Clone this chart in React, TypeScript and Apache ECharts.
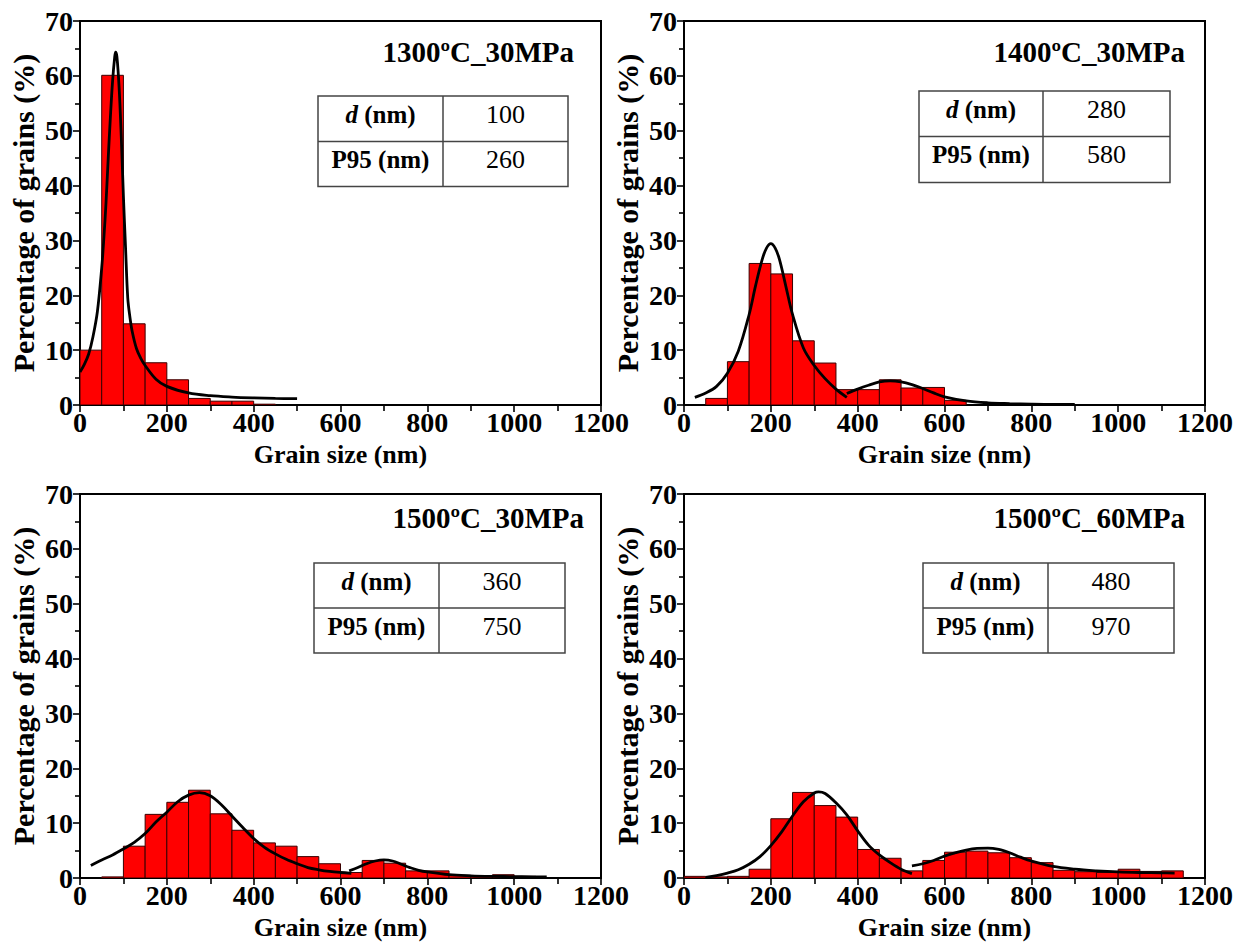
import React, { useEffect, useRef } from "react";
import * as echarts from "echarts";

const BIN_WIDTH = 50;
const X_MIN = 0;
const X_MAX = 1200;
const X_STEP = 200;
const Y_MIN = 0;
const Y_MAX = 70;
const Y_STEP = 10;

const X_NAME = "Grain size (nm)";
const Y_NAME = "Percentage of grains (%)";

const titles = ["1300ºC_30MPa", "1400ºC_30MPa", "1500ºC_30MPa", "1500ºC_60MPa"];
const rowLabelD = "d";
const rowLabelUnit = " (nm)";
const rowLabelP95 = "P95 (nm)";
const dValues = ["100", "280", "360", "480"];
const p95Values = ["260", "580", "750", "970"];

// Panel 1: 1300ºC_30MPa
const p1BinStarts = [0, 50, 100, 150, 200, 250, 300, 350, 400];
const p1Counts = [10.0, 60.1, 14.8, 7.7, 4.6, 1.2, 0.7, 0.7, 0.15];
const p1FitX = [0, 10, 20, 30, 40, 50, 55, 60, 65, 70, 75, 80, 82, 85, 90, 95, 100, 105, 110, 115, 120, 130, 140, 150, 175, 200, 250, 300, 350, 400, 450, 500];
const p1FitY = [6.0, 7.4, 9.3, 12.5, 17.0, 25.0, 30.5, 37.0, 45.0, 52.5, 59.0, 63.5, 64.3, 63.5, 58.0, 49.0, 38.0, 28.5, 19.5, 16.0, 13.5, 10.3, 8.5, 7.2, 4.7, 3.4, 2.2, 1.7, 1.45, 1.3, 1.2, 1.15];

// Panel 2: 1400ºC_30MPa
const p2BinStarts = [50, 100, 150, 200, 250, 300, 350, 400, 450, 500, 550, 600];
const p2Counts = [1.2, 7.9, 25.8, 23.9, 11.7, 7.65, 2.8, 2.8, 4.6, 3.1, 3.2, 0.85];
const p2FitAX = [25, 50, 75, 100, 125, 150, 165, 180, 190, 200, 210, 220, 235, 250, 275, 300, 325, 350, 375];
const p2FitAY = [1.4, 2.2, 3.4, 5.8, 9.8, 16.5, 21.8, 26.5, 28.6, 29.4, 28.6, 26.5, 21.5, 16.5, 10.4, 7.2, 4.8, 2.9, 1.4];
const p2FitBX = [375, 400, 425, 450, 475, 500, 525, 550, 575, 600, 650, 700, 750, 800, 850, 900];
const p2FitBY = [2.1, 2.9, 3.6, 4.2, 4.4, 4.2, 3.7, 3.0, 2.2, 1.5, 0.75, 0.4, 0.25, 0.15, 0.1, 0.1];

// Panel 3: 1500ºC_30MPa
const p3BinStarts = [50, 100, 150, 200, 250, 300, 350, 400, 450, 500, 550, 600, 650, 700, 750, 800, 850, 900, 950, 1000];
const p3Counts = [0.2, 5.8, 11.6, 13.8, 16.0, 11.7, 8.7, 6.4, 5.8, 3.9, 2.6, 1.0, 3.2, 2.7, 1.3, 1.3, 0.5, 0.4, 0.6, 0.3];
const p3FitAX = [25, 50, 75, 100, 125, 150, 175, 200, 225, 250, 275, 300, 325, 350, 375, 400, 425, 450, 475, 500, 525, 550, 575, 600, 625];
const p3FitAY = [2.3, 3.3, 4.2, 5.3, 6.5, 8.1, 10.2, 12.0, 13.9, 15.1, 15.55, 15.0, 13.4, 11.3, 9.2, 7.2, 5.6, 4.4, 3.4, 2.6, 1.9, 1.5, 1.2, 1.0, 0.85];
const p3FitBX = [620, 640, 660, 680, 700, 720, 740, 760, 780, 800, 850, 900, 950, 1000, 1050, 1075];
const p3FitBY = [1.3, 1.9, 2.6, 3.1, 3.3, 3.1, 2.5, 1.9, 1.4, 1.1, 0.6, 0.4, 0.3, 0.25, 0.2, 0.2];

// Panel 4: 1500ºC_60MPa
const p4BinStarts = [0, 50, 100, 150, 200, 250, 300, 350, 400, 450, 500, 550, 600, 650, 700, 750, 800, 850, 900, 950, 1000, 1050, 1100];
const p4Counts = [0.3, 0.2, 0.3, 1.6, 10.8, 15.6, 13.2, 11.1, 5.2, 3.6, 1.3, 3.2, 4.7, 4.9, 4.6, 3.7, 2.8, 1.4, 1.15, 1.0, 1.6, 1.2, 1.3];
const p4FitAX = [50, 75, 100, 125, 150, 175, 200, 225, 250, 275, 300, 310, 325, 350, 375, 400, 425, 450, 475, 500, 525];
const p4FitAY = [0.1, 0.45, 0.9, 1.5, 2.5, 3.9, 5.9, 8.4, 11.3, 13.9, 15.5, 15.7, 15.4, 13.7, 11.5, 8.6, 6.0, 4.2, 2.8, 1.6, 0.8];
const p4FitBX = [525, 550, 575, 600, 625, 650, 675, 700, 725, 750, 775, 800, 850, 900, 950, 1000, 1050, 1100, 1130];
const p4FitBY = [2.2, 2.6, 3.2, 4.0, 4.6, 5.1, 5.4, 5.45, 5.2, 4.6, 3.8, 3.1, 2.1, 1.6, 1.3, 1.1, 1.0, 0.95, 0.9];

const FONT = "Liberation Serif, Times New Roman, serif";

type Panel = {
  starts: number[];
  counts: number[];
  fits: [number[], number[]][];
  grid: { left: number; top: number; width: number; height: number };
  titleRight: number;
  titleY: number;
  table: { cols: [number, number, number]; rows: [number, number, number] };
};

const panels: Panel[] = [
  {
    starts: p1BinStarts,
    counts: p1Counts,
    fits: [[p1FitX, p1FitY]],
    grid: { left: 80, top: 21, width: 521, height: 384 },
    titleRight: 574,
    titleY: 52,
    table: { cols: [318, 443, 568], rows: [96, 141.5, 186.5] },
  },
  {
    starts: p2BinStarts,
    counts: p2Counts,
    fits: [
      [p2FitAX, p2FitAY],
      [p2FitBX, p2FitBY],
    ],
    grid: { left: 684, top: 21, width: 521, height: 384 },
    titleRight: 1185,
    titleY: 52,
    table: { cols: [919, 1043, 1170], rows: [91, 136.5, 182.5] },
  },
  {
    starts: p3BinStarts,
    counts: p3Counts,
    fits: [
      [p3FitAX, p3FitAY],
      [p3FitBX, p3FitBY],
    ],
    grid: { left: 80, top: 494, width: 521, height: 384 },
    titleRight: 584,
    titleY: 518,
    table: { cols: [314, 439, 565], rows: [563, 608, 653] },
  },
  {
    starts: p4BinStarts,
    counts: p4Counts,
    fits: [
      [p4FitAX, p4FitAY],
      [p4FitBX, p4FitBY],
    ],
    grid: { left: 684, top: 494, width: 521, height: 384 },
    titleRight: 1185,
    titleY: 518,
    table: { cols: [923, 1048, 1174], rows: [563, 608, 653] },
  },
];

function buildOption() {
  const grids: any[] = [];
  const xAxes: any[] = [];
  const yAxes: any[] = [];
  const series: any[] = [];
  const graphic: any[] = [];

  panels.forEach((p, i) => {
    grids.push({
      ...p.grid,
      show: true,
      borderColor: "#000",
      borderWidth: 2,
      backgroundColor: "#fff",
      containLabel: false,
    });
    xAxes.push({
      type: "value",
      gridIndex: i,
      min: X_MIN,
      max: X_MAX,
      interval: X_STEP,
      name: X_NAME,
      nameLocation: "middle",
      nameGap: 36,
      nameTextStyle: { fontFamily: FONT, fontWeight: "bold", fontSize: 26, color: "#000" },
      axisLine: { show: true, onZero: false, lineStyle: { color: "#000", width: 2 } },
      axisTick: { show: true, inside: false, length: 7, lineStyle: { color: "#000", width: 1.6 } },
      minorTick: { show: true, splitNumber: 2, length: 6, lineStyle: { color: "#000", width: 1.6 } },
      splitLine: { show: false },
      minorSplitLine: { show: false },
      axisLabel: {
        fontFamily: FONT,
        fontWeight: "bold",
        fontSize: 28,
        color: "#000",
        margin: 3,
        formatter: (v: number) => String(v),
      },
    });
    yAxes.push({
      type: "value",
      gridIndex: i,
      min: Y_MIN,
      max: Y_MAX,
      interval: Y_STEP,
      name: Y_NAME,
      nameLocation: "middle",
      nameGap: 42,
      nameTextStyle: { fontFamily: FONT, fontWeight: "bold", fontSize: 30, color: "#000" },
      axisLine: { show: true, lineStyle: { color: "#000", width: 2 } },
      axisTick: { show: true, inside: false, length: 7, lineStyle: { color: "#000", width: 1.6 } },
      minorTick: { show: true, splitNumber: 2, length: 5, lineStyle: { color: "#000", width: 1.6 } },
      splitLine: { show: false },
      minorSplitLine: { show: false },
      axisLabel: {
        fontFamily: FONT,
        fontWeight: "bold",
        fontSize: 28,
        color: "#000",
        margin: 7,
        formatter: (v: number) => String(v),
      },
    });

    series.push({
      type: "custom",
      xAxisIndex: i,
      yAxisIndex: i,
      clip: true,
      z: 2,
      data: p.starts.map((s, k) => [s, s + BIN_WIDTH, p.counts[k]]),
      encode: { x: [0, 1], y: 2 },
      renderItem: (params: any, api: any) => {
        const x0 = api.value(0);
        const x1 = api.value(1);
        const y = api.value(2);
        const a = api.coord([x0, y]);
        const b = api.coord([x1, 0]);
        return {
          type: "rect",
          shape: { x: a[0], y: a[1], width: b[0] - a[0], height: b[1] - a[1] },
          style: { fill: "#ff0000", stroke: "#3a0000", lineWidth: 1 },
        };
      },
    });

    p.fits.forEach(([xs, ys]) => {
      series.push({
        type: "line",
        xAxisIndex: i,
        yAxisIndex: i,
        z: 5,
        smooth: 0.35,
        showSymbol: false,
        symbol: "none",
        data: xs.map((x, k) => [x, ys[k]]),
        lineStyle: { color: "#000", width: 2.8 },
      });
    });

    graphic.push({
      type: "text",
      x: p.titleRight,
      y: p.titleY,
      z: 10,
      style: {
        text: titles[i],
        fontFamily: FONT,
        fontWeight: "bold",
        fontSize: 29,
        fill: "#000",
        align: "right",
        verticalAlign: "middle",
      },
    });

    const [c0, c1, c2] = p.table.cols;
    const [r0, r1, r2] = p.table.rows;
    graphic.push({
      type: "rect",
      z: 10,
      shape: { x: c0, y: r0, width: c2 - c0, height: r2 - r0 },
      style: { fill: "#fff", stroke: "#444", lineWidth: 1.5 },
    });
    graphic.push({
      type: "line",
      z: 11,
      shape: { x1: c0, y1: r1, x2: c2, y2: r1 },
      style: { stroke: "#444", lineWidth: 1.5 },
    });
    graphic.push({
      type: "line",
      z: 11,
      shape: { x1: c1, y1: r0, x2: c1, y2: r2 },
      style: { stroke: "#444", lineWidth: 1.5 },
    });
    const col0 = (c0 + c1) / 2;
    const col1 = (c1 + c2) / 2;
    const rowText0 = r0 + 18;
    const rowText1 = r1 + 18;
    graphic.push({
      type: "text",
      z: 12,
      x: col0,
      y: rowText0,
      style: {
        text: `{i|${rowLabelD}}{b|${rowLabelUnit}}`,
        rich: {
          i: { fontFamily: FONT, fontWeight: "bold", fontStyle: "italic", fontSize: 25, fill: "#000" },
          b: { fontFamily: FONT, fontWeight: "bold", fontSize: 25, fill: "#000" },
        },
        align: "center",
        verticalAlign: "middle",
      },
    });
    graphic.push({
      type: "text",
      z: 12,
      x: col0,
      y: rowText1,
      style: {
        text: rowLabelP95,
        fontFamily: FONT,
        fontWeight: "bold",
        fontSize: 25,
        fill: "#000",
        align: "center",
        verticalAlign: "middle",
      },
    });
    graphic.push({
      type: "text",
      z: 12,
      x: col1,
      y: rowText0,
      style: {
        text: dValues[i],
        fontFamily: FONT,
        fontSize: 26,
        fill: "#000",
        align: "center",
        verticalAlign: "middle",
      },
    });
    graphic.push({
      type: "text",
      z: 12,
      x: col1,
      y: rowText1,
      style: {
        text: p95Values[i],
        fontFamily: FONT,
        fontSize: 26,
        fill: "#000",
        align: "center",
        verticalAlign: "middle",
      },
    });
  });

  return {
    animation: false,
    backgroundColor: "#fff",
    textStyle: { fontFamily: FONT },
    grid: grids,
    xAxis: xAxes,
    yAxis: yAxes,
    series,
    graphic,
  };
}

export default function App() {
  const ref = useRef<HTMLDivElement>(null);
  useEffect(() => {
    if (!ref.current) return;
    const chart = echarts.init(ref.current, undefined, { renderer: "svg" });
    chart.setOption(buildOption() as any);
    return () => chart.dispose();
  }, []);
  return (
    <div
      ref={ref}
      style={{ position: "absolute", left: 0, top: 0, width: 1239, height: 943, background: "#fff" }}
    />
  );
}
